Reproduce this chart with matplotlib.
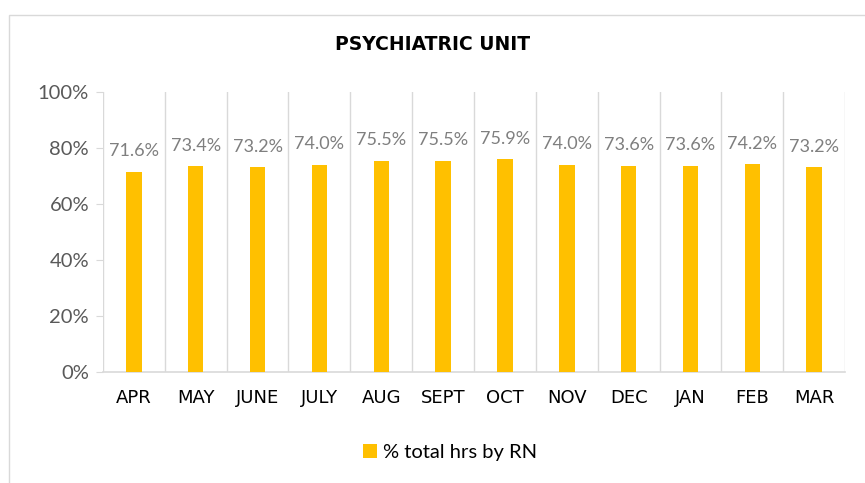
import matplotlib
matplotlib.use("Agg")
import matplotlib.pyplot as plt
from matplotlib.patches import Rectangle

# data
months = ["APR", "MAY", "JUNE", "JULY", "AUG", "SEPT", "OCT", "NOV", "DEC", "JAN", "FEB", "MAR"]
pct_rn = [71.6, 73.4, 73.2, 74.0, 75.5, 75.5, 75.9, 74.0, 73.6, 73.6, 74.2, 73.2]
y_ticks = [0, 20, 40, 60, 80, 100]

bar_color = "#FFC000"
grid_color = "#D9D9D9"

plt.rcParams['font.family'] = ['Lato', 'DejaVu Sans']

fig = plt.figure(figsize=(8.65, 4.83), dpi=100)
ax = fig.add_axes([0.119, 0.2298, 0.858, 0.5797])

xs = list(range(len(months)))
ax.bar(xs, pct_rn, width=0.25, color=bar_color, zorder=3, label="% total hrs by RN")

for x, v in zip(xs, pct_rn):
  ax.annotate("%.1f%%" % v, (x, v), xytext=(0, 9), textcoords="offset points",
              ha="center", va="bottom", fontsize=13, color="#7F7F7F")

ax.set_xlim(-0.5, len(months) - 0.5)
ax.set_ylim(0, 100)

# vertical gridlines between categories
for b in range(len(months) + 1):
  ax.axvline(b - 0.5, color=grid_color, linewidth=1, zorder=1)

ax.set_yticks(y_ticks)
ax.set_yticklabels(["%d%%" % t for t in y_ticks], fontsize=14.5, color="#595959")
ax.tick_params(axis="y", length=5, color=grid_color, pad=5)

ax.set_xticks(xs)
ax.set_xticklabels(months, fontsize=13, color="black", family="DejaVu Sans")
ax.tick_params(axis="x", length=0, pad=12)

for side in ["top", "right", "left"]:
  ax.spines[side].set_visible(False)
ax.spines["bottom"].set_color(grid_color)
ax.spines["bottom"].set_linewidth(1.2)

fig.text(0.5, 0.907, "PSYCHIATRIC UNIT", ha="center", va="center",
         fontsize=13.5, fontweight="bold", color="black", family="DejaVu Sans")

fig.legend(loc="center", bbox_to_anchor=(0.52, 0.064), frameon=False,
           fontsize=14.5, handlelength=0.7, handleheight=0.7, handletextpad=0.3)

# chart border
fig.patches.append(Rectangle((0.0104, -0.01), 1.0, 0.979, transform=fig.transFigure,
                             fill=False, edgecolor=grid_color, linewidth=1))

fig.savefig("out.png", dpi=100)
